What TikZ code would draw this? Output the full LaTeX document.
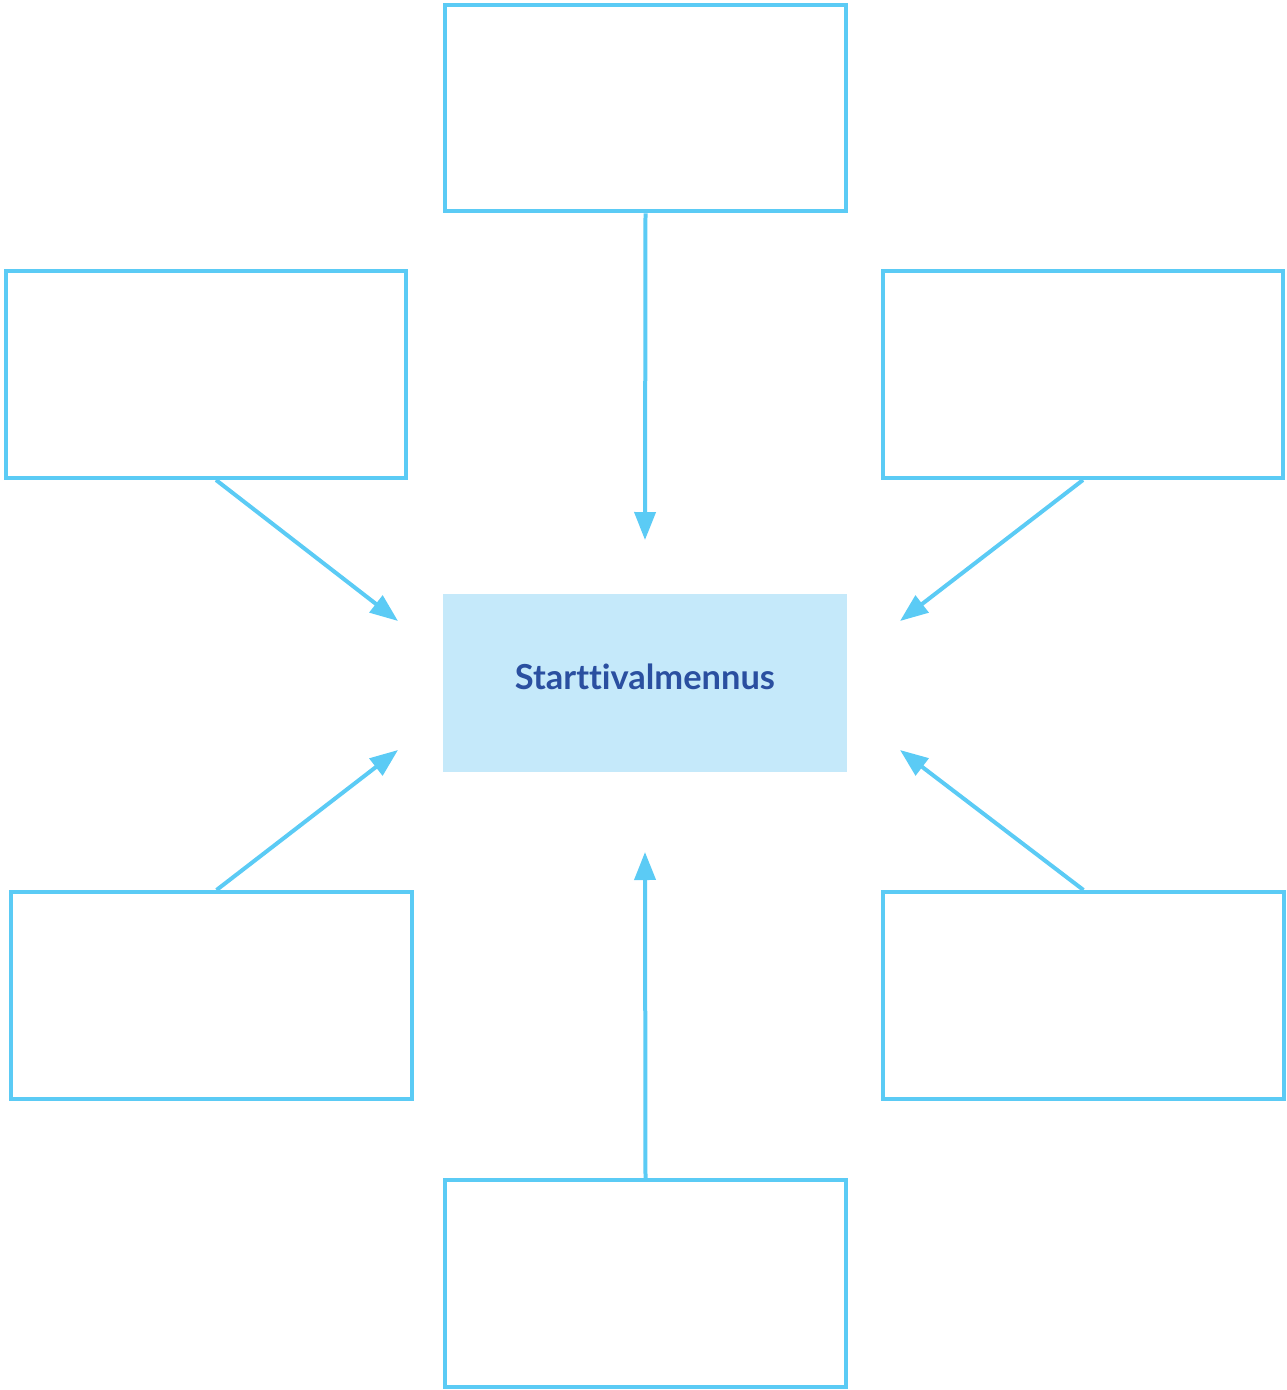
\documentclass[tikz,border=0pt]{standalone}
\usepackage{fontspec}
\setmainfont{Lato}[Ligatures=NoCommon]
\usepackage{tikz}
\usetikzlibrary{arrows.meta}

\definecolor{lineblue}{HTML}{5BCBF5}
\definecolor{hubfill}{HTML}{C5E9FA}
\definecolor{hubtext}{HTML}{2A4FA0}

\begin{document}
\begin{tikzpicture}[
    x=0.02cm, y=-0.02cm,
    box/.style={draw=lineblue, line width=0.08cm, minimum width=8.02cm, minimum height=4.14cm, inner sep=0pt},
    hub/.style={fill=hubfill, minimum width=8.08cm, minimum height=3.56cm, inner sep=0pt, text depth=0.24cm, text=hubtext, font=\fontsize{19.6}{22}\selectfont\bfseries},
    link/.style={draw=lineblue, line width=0.08cm, -{Triangle[length=0.56cm, width=0.42cm]}}
  ]
    \useasboundingbox (0,0) rectangle (1287,1390);
    \node[hub] (hub) at (645,683) {Starttivalmennus};
    \node[box] (top) at (645.5,108) {};
    \node[box] (upleft) at (206,374.5) {};
    \node[box] (upright) at (1083,374.5) {};
    \node[box] (lowleft) at (211.5,995.5) {};
    \node[box] (lowright) at (1083.5,995.5) {};
    \node[box] (bottom) at (645.5,1283.5) {};
    % free ends of the arrows
    \coordinate (tipN) at (645,540);
    \coordinate (tipNW) at (398,621);
    \coordinate (tipNE) at (900,621);
    \coordinate (tipSW) at (398,750);
    \coordinate (tipSE) at (900,750);
    \coordinate (tipS) at (645,852);
    \draw[link] (top.south) -- (tipN);
    \draw[link] ([xshift=0.2cm]upleft.south) -- (tipNW);
    \draw[link] (upright.south) -- (tipNE);
    \draw[link] ([xshift=0.1cm]lowleft.north) -- (tipSW);
    \draw[link] (lowright.north) -- (tipSE);
    \draw[link] (bottom.north) -- (tipS);
  \end{tikzpicture}
\end{document}
